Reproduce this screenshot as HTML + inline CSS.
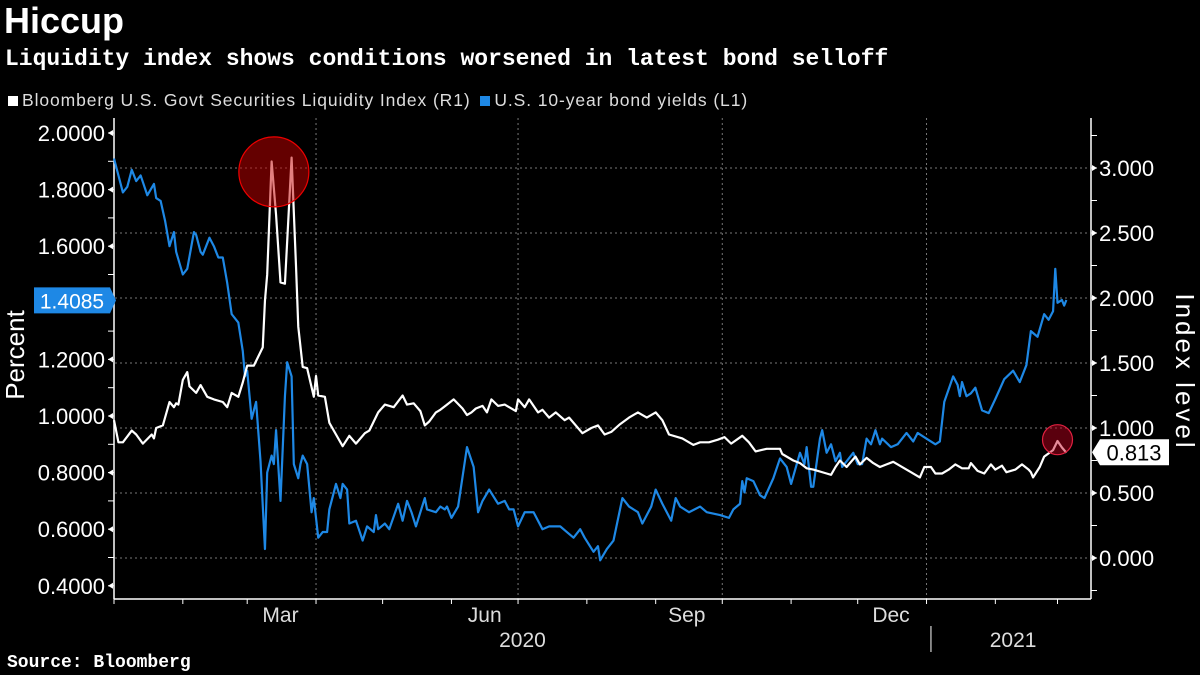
<!DOCTYPE html>
<html><head><meta charset="utf-8"><style>
body{margin:0;background:#000;width:1200px;height:675px;overflow:hidden;font-family:"Liberation Sans",sans-serif;color:#fff}
.t{position:absolute;white-space:nowrap}
</style></head><body>
<div class="t" style="left:4px;top:0px;font-size:36px;font-weight:bold">Hiccup</div>
<div class="t" style="left:5px;top:46px;font-size:23px;font-weight:bold;font-family:'Liberation Mono',monospace">Liquidity index shows conditions worsened in latest bond selloff</div>
<div class="t" style="left:8px;top:90px;font-size:17.5px;color:#ddd;letter-spacing:0.9px">
<span><span style="display:inline-block;width:10px;height:10px;background:#fff;margin-right:4px"></span>Bloomberg U.S. Govt Securities Liquidity Index (R1)</span>
<span style="margin-left:4px"><span style="display:inline-block;width:10px;height:10px;background:#1e88e5;margin-right:4px"></span>U.S. 10-year bond yields (L1)</span></div>
<div class="t" style="left:7px;top:653px;font-size:18px;font-weight:bold;font-family:'Liberation Mono',monospace">Source: Bloomberg</div>
<svg id="chart" width="1200" height="675" style="position:absolute;left:0;top:0"></svg>
<script>
const yieldDays=[0,4,6,8,10,12,15,18,19,21,23,25,27,28,31,33,36,37,39,40,43,45,47,49,51,53,56,58,59,60,62,64,66,68,69,71,72,73,75,77,78,80,81,83,84,85,87,89,90,92,94,96,97,100,102,103,105,106,109,112,114,117,118,119,122,124,128,130,132,134,136,140,141,145,147,149,150,152,155,159,162,164,166,169,173,176,178,180,182,185,189,191,193,196,199,201,204,207,210,212,216,218,219,222,225,229,232,236,238,242,244,247,251,253,255,259,264,267,273,277,279,282,283,284,285,288,291,293,297,300,303,305,309,311,312,314,315,318,319,321,323,325,327,328,330,333,335,337,339,341,343,345,346,350,353,357,360,362,366,370,372,374,378,380,381,382,384,386,388,391,394,397,401,405,408,411,413,416,419,421,423,424,425,427,428,429];
const yieldValues=[1.91,1.79,1.81,1.87,1.83,1.85,1.78,1.82,1.77,1.76,1.69,1.60,1.65,1.58,1.50,1.52,1.65,1.64,1.58,1.57,1.63,1.60,1.56,1.56,1.47,1.36,1.33,1.23,1.14,1.16,0.99,1.05,0.84,0.53,0.80,0.86,0.83,0.95,0.70,1.07,1.19,1.14,0.83,0.78,0.83,0.86,0.83,0.66,0.71,0.57,0.59,0.59,0.67,0.76,0.71,0.76,0.74,0.62,0.63,0.56,0.61,0.59,0.65,0.60,0.62,0.60,0.69,0.63,0.70,0.66,0.61,0.71,0.67,0.66,0.68,0.67,0.68,0.64,0.68,0.89,0.82,0.66,0.70,0.74,0.69,0.70,0.67,0.67,0.61,0.66,0.66,0.63,0.60,0.61,0.61,0.61,0.59,0.57,0.60,0.57,0.52,0.54,0.49,0.53,0.56,0.71,0.68,0.66,0.62,0.68,0.74,0.69,0.63,0.71,0.68,0.66,0.68,0.66,0.65,0.64,0.67,0.69,0.77,0.73,0.78,0.77,0.72,0.71,0.78,0.85,0.82,0.76,0.87,0.83,0.89,0.75,0.75,0.92,0.95,0.87,0.90,0.84,0.87,0.82,0.84,0.87,0.83,0.83,0.92,0.90,0.95,0.90,0.92,0.89,0.90,0.94,0.91,0.94,0.92,0.90,0.91,1.05,1.14,1.11,1.07,1.12,1.07,1.08,1.10,1.02,1.01,1.06,1.13,1.16,1.12,1.18,1.30,1.28,1.36,1.34,1.37,1.52,1.40,1.41,1.39,1.41];
const liqDays=[0,2,4,8,10,13,17,18,19,22,25,27,28,29,31,33,34,37,39,42,45,49,51,53,56,58,60,63,67,68,69,71,73,75,77,80,82,83,85,87,90,91,92,95,97,100,103,106,109,113,115,117,119,122,126,130,132,135,138,140,142,145,147,150,153,157,159,161,163,166,168,170,173,176,181,182,185,187,191,193,196,199,203,205,211,215,218,221,224,228,232,236,240,244,247,250,256,261,264,268,272,275,278,283,286,289,294,300,301,306,309,312,315,321,323,325,327,330,334,336,339,342,345,348,351,356,359,363,365,368,370,373,376,379,382,385,386,389,392,395,397,400,402,406,409,412,413,414,417,419,423,425,427,429];
const liqValues=[1.06,0.89,0.89,0.98,0.95,0.88,0.95,0.92,1.00,1.02,1.20,1.16,1.19,1.18,1.37,1.43,1.32,1.27,1.33,1.24,1.22,1.20,1.16,1.27,1.24,1.35,1.48,1.48,1.62,1.98,2.18,3.05,2.64,2.12,2.11,3.08,2.24,1.78,1.47,1.46,1.24,1.40,1.25,1.24,1.04,0.95,0.86,0.94,0.88,0.96,0.98,1.05,1.12,1.18,1.16,1.25,1.18,1.19,1.13,1.02,1.05,1.12,1.14,1.18,1.22,1.15,1.10,1.12,1.15,1.17,1.12,1.22,1.17,1.18,1.13,1.22,1.16,1.22,1.12,1.14,1.08,1.12,1.06,1.08,0.96,1.00,1.02,0.95,0.97,1.03,1.08,1.12,1.08,1.12,1.06,0.95,0.92,0.87,0.89,0.89,0.91,0.93,0.88,0.94,0.89,0.82,0.84,0.84,0.80,0.75,0.73,0.69,0.68,0.65,0.64,0.70,0.75,0.70,0.78,0.72,0.77,0.73,0.70,0.72,0.74,0.69,0.66,0.62,0.70,0.70,0.65,0.65,0.68,0.72,0.69,0.69,0.73,0.67,0.65,0.72,0.68,0.71,0.66,0.68,0.72,0.68,0.66,0.62,0.70,0.78,0.83,0.90,0.85,0.81];
const leftTicks=["2.0000","1.8000","1.6000","1.4000","1.2000","1.0000","0.8000","0.6000","0.4000"];
const rightTicks=["3.000","2.500","2.000","1.500","1.000","0.500","0.000"];
const monthLabels=["Mar","Jun","Sep","Dec"];
const monthLabelDays=[75,167,258,350];
const gridDays=[91,182,274,366];
const yearLabels=["2020","2021"];
const yearLabelDays=[184,405];
const lastYield=1.4085, lastLiq=0.813;

const NS="http://www.w3.org/2000/svg";
const svg=document.getElementById('chart');
const X=d=>114+d*2.22;
const YL=v=>133+(2-v)*283;
const YR=v=>558-v*130;
function mk(tag,attrs,parent){const e=document.createElementNS(NS,tag);for(const k in attrs)e.setAttribute(k,attrs[k]);(parent||svg).appendChild(e);return e;}
rightTicks.forEach(t=>{const y=YR(parseFloat(t));
 const g=mk('line',{x1:115,x2:1090,y1:y,y2:y,stroke:'#777','stroke-dasharray':'2,3','stroke-width':1});
 
 
});
gridDays.forEach(d=>{
 const g=mk('line',{x1:X(d),x2:X(d),y1:118,y2:599,stroke:'#777','stroke-dasharray':'2,3','stroke-width':1});
 
 
});
const la=mk('line',{x1:114,x2:114,y1:118,y2:599,stroke:'#fff','stroke-width':1.5});


const ra=mk('line',{x1:1091,x2:1091,y1:118,y2:599,stroke:'#fff','stroke-width':1.5});


const ba=mk('line',{x1:114,x2:1091,y1:599,y2:599,stroke:'#fff','stroke-width':1.5});


for(let v=0.4;v<=2.0001;v+=0.1){mk('line',{x1:108,x2:114,y1:YL(v),y2:YL(v),stroke:'#fff','stroke-width':1});}
for(let v=-0.25;v<=3.26;v+=0.25){mk('line',{x1:1091,x2:1097,y1:YR(v),y2:YR(v),stroke:'#fff','stroke-width':1});}
leftTicks.forEach(t=>{const y=YL(parseFloat(t));
 mk('path',{d:`M108 ${y} l5 -3 v6z`,fill:'#fff'});
 const e=mk('text',{x:105,y:y+8,'text-anchor':'end','font-size':22,fill:'#fff','font-family':'Liberation Sans'});e.textContent=t;
 
 
});
rightTicks.forEach(t=>{const y=YR(parseFloat(t));
 mk('path',{d:`M1097 ${y} l-5 -3 v6z`,fill:'#fff'});
 const e=mk('text',{x:1099,y:y+8,'font-size':22,fill:'#fff','font-family':'Liberation Sans'});e.textContent=t;
 
 
});
for(let m=0;m<15;m++){const d=[0,31,60,91,121,152,182,213,244,274,305,335,366,397,425][m];mk('line',{x1:X(d),x2:X(d),y1:599,y2:604,stroke:'#fff','stroke-width':1});}
monthLabels.forEach((t,i)=>{const e=mk('text',{x:X(monthLabelDays[i]),y:622,'text-anchor':'middle','font-size':21,fill:'#ddd','font-family':'Liberation Sans'});e.textContent=t;
 
 });
yearLabels.forEach((t,i)=>{const e=mk('text',{x:X(yearLabelDays[i]),y:647,'text-anchor':'middle','font-size':21,fill:'#ddd','font-family':'Liberation Sans'});e.textContent=t;
 
 });
mk('line',{x1:X(368),x2:X(368),y1:626,y2:652,stroke:'#fff','stroke-width':1});
const pt=mk('text',{x:0,y:0,transform:'translate(24,355) rotate(-90)','text-anchor':'middle','font-size':26,fill:'#fff','font-family':'Liberation Sans'});pt.textContent='Percent';


const it=mk('text',{x:0,y:0,transform:'translate(1176,372) rotate(90)','text-anchor':'middle','font-size':26,fill:'#fff','font-family':'Liberation Sans','letter-spacing':'3'});it.textContent='Index level';


const yl=mk('polyline',{points:yieldDays.map((d,i)=>X(d)+','+YL(yieldValues[i])).join(' '),fill:'none',stroke:'#1e88e5','stroke-width':2.2,'stroke-linejoin':'round'});


const ll=mk('polyline',{points:liqDays.map((d,i)=>X(d)+','+YR(liqValues[i])).join(' '),fill:'none',stroke:'#fff','stroke-width':2.2,'stroke-linejoin':'round'});


const c1=mk('circle',{cx:X(72),cy:YR(2.97),r:35,fill:'rgba(200,0,0,0.5)',stroke:'#e00','stroke-width':1.2});


const c2=mk('circle',{cx:X(425),cy:YR(0.91),r:15,fill:'rgba(200,0,30,0.45)',stroke:'#e02040','stroke-width':1.2});


const yy=YL(lastYield);
const b1=mk('path',{d:`M34 ${yy-13} H110 L116 ${yy} L110 ${yy+13} H34Z`,fill:'#1e88e5'});


const t1=mk('text',{x:72,y:yy+8,'text-anchor':'middle','font-size':21,fill:'#fff','font-family':'Liberation Sans'});t1.textContent=lastYield.toFixed(4);


const ry=YR(lastLiq);
const b2=mk('path',{d:`M1092 ${ry} L1100 ${ry-13} H1169 V${ry+13} H1100Z`,fill:'#fff'});


const t2=mk('text',{x:1134,y:ry+8,'text-anchor':'middle','font-size':22,fill:'#000','font-family':'Liberation Sans'});t2.textContent=lastLiq.toFixed(3);


</script>
</body></html>
